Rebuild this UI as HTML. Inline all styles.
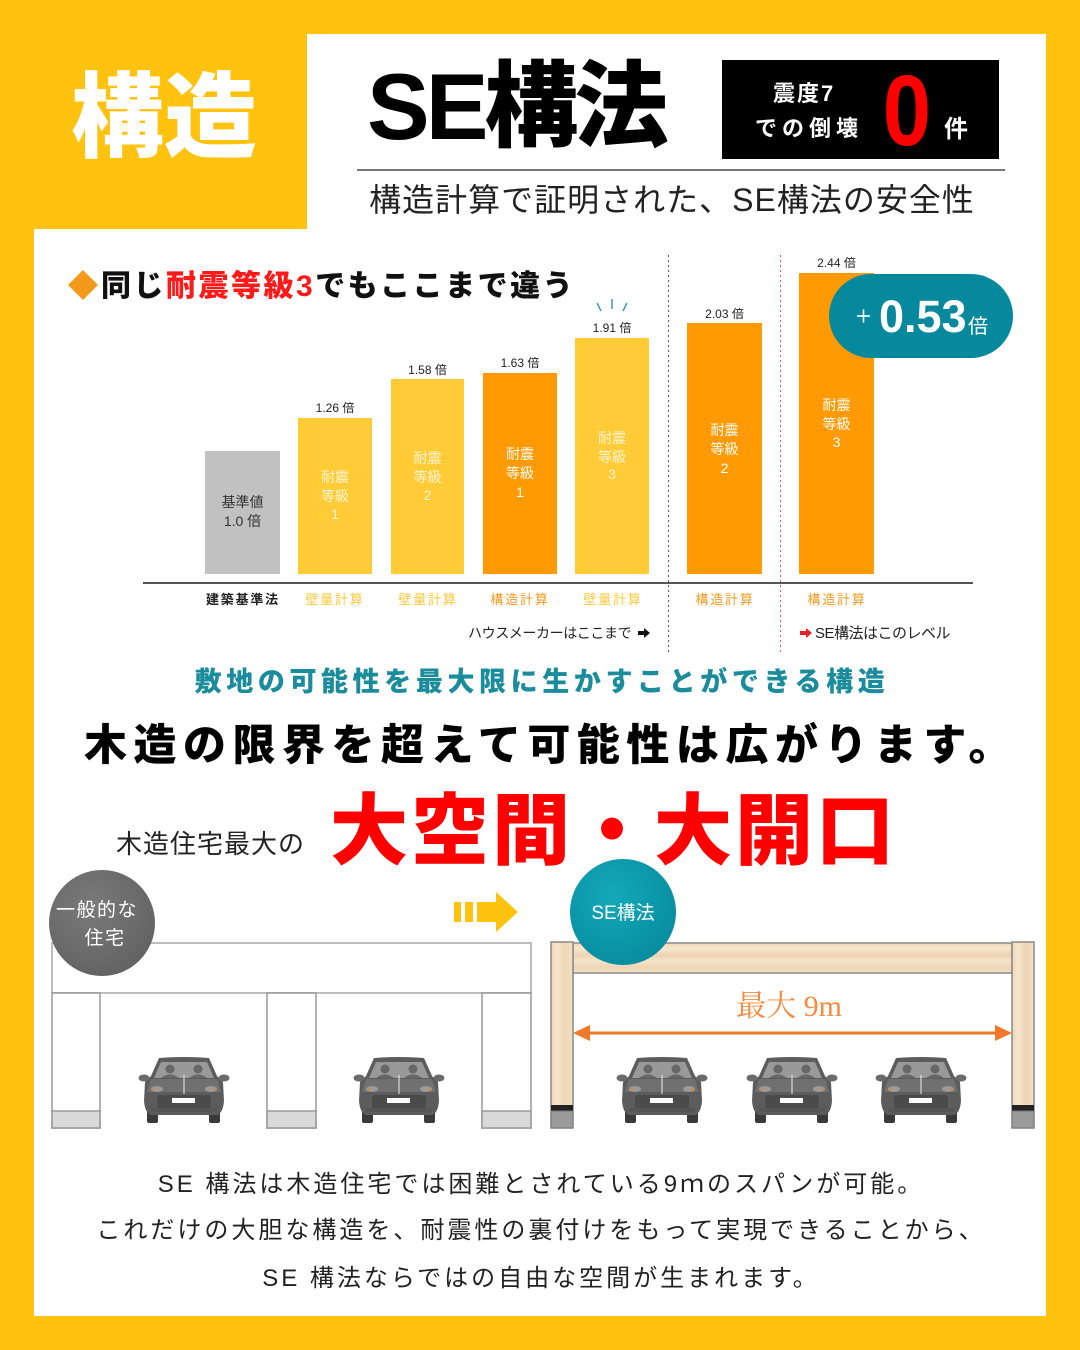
<!DOCTYPE html>
<html><head><meta charset="utf-8"><style>
html,body{margin:0;padding:0;background:#FFC20E;}
svg{display:block;}
.jp{font-family:"Liberation Sans","Noto Sans CJK JP",sans-serif;}
</style></head><body>
<svg width="1080" height="1350" viewBox="0 0 1080 1350" xmlns="http://www.w3.org/2000/svg" class="jp">
<defs>
<g id="car">
 <rect x="8" y="52" width="11" height="14" rx="2" fill="#3a3a3a"/>
 <rect x="70" y="52" width="11" height="14" rx="2" fill="#3a3a3a"/>
 <path d="M20 1 Q45 -1 70 1 L78 19 L84 25 L85 44 Q84 56 78 58 L12 58 Q6 56 5 44 L6 25 L12 19 Z" fill="#5c5c5c"/>
 <path d="M22 5 L68 5 L75 21 L15 21 Z" fill="#999"/>
 <circle cx="31" cy="12" r="4.5" fill="#676767"/>
 <circle cx="59" cy="12" r="4.5" fill="#676767"/>
 <path d="M22 21 Q31 14 40 21Z" fill="#676767"/>
 <path d="M50 21 Q59 14 68 21Z" fill="#676767"/>
 <ellipse cx="5" cy="21" rx="5.5" ry="3.5" fill="#6a6a6a"/>
 <ellipse cx="85" cy="21" rx="5.5" ry="3.5" fill="#6a6a6a"/>
 <path d="M12 22 L78 22 L82 35 L8 35 Z" fill="#707070"/>
 <line x1="45" y1="18" x2="45" y2="37" stroke="#eee" stroke-width="1"/>
 <ellipse cx="18" cy="32" rx="6" ry="3" fill="#9a9a9a"/>
 <ellipse cx="72" cy="32" rx="6" ry="3" fill="#9a9a9a"/>
 <circle cx="15" cy="32" r="1.4" fill="#d88a3a"/>
 <circle cx="75" cy="32" r="1.4" fill="#d88a3a"/>
 <rect x="18" y="38" width="54" height="14" rx="3" fill="#4b4b4b"/>
 <rect x="33" y="41" width="23" height="5" fill="#fff"/>
 <rect x="12" y="51" width="66" height="4" fill="#555"/>
</g>
<radialGradient id="teal" cx="0.4" cy="0.35" r="0.7">
 <stop offset="0" stop-color="#13a9ba"/><stop offset="1" stop-color="#078c9e"/>
</radialGradient>
<radialGradient id="gray" cx="0.4" cy="0.35" r="0.7">
 <stop offset="0" stop-color="#7a7a7a"/><stop offset="1" stop-color="#626262"/>
</radialGradient>
<linearGradient id="woodH" x1="0" y1="0" x2="0" y2="1">
 <stop offset="0" stop-color="#f0d9bb"/><stop offset="0.2" stop-color="#f6e6cd"/>
 <stop offset="0.4" stop-color="#edd3b2"/><stop offset="0.6" stop-color="#f5e4c8"/>
 <stop offset="0.8" stop-color="#eed6b6"/><stop offset="1" stop-color="#f3e0c4"/>
</linearGradient>
<linearGradient id="woodV" x1="0" y1="0" x2="1" y2="0">
 <stop offset="0" stop-color="#efd7b8"/><stop offset="0.3" stop-color="#f6e6cd"/>
 <stop offset="0.6" stop-color="#edd4b3"/><stop offset="1" stop-color="#f4e2c6"/>
</linearGradient>
</defs>

<!-- background -->
<rect x="0" y="0" width="1080" height="1350" fill="#FFC20E"/>
<rect x="307" y="34" width="739" height="196" fill="#fff"/>
<rect x="34" y="229" width="1012" height="1087" fill="#fff"/>

<!-- header -->
<text x="71" y="150" font-size="93" font-weight="900" fill="#fff">構造</text>
<text x="367" y="139" font-size="94" font-weight="900" fill="#000" letter-spacing="-4">SE構法</text>
<rect x="722" y="60" width="277" height="99" fill="#000"/>
<text x="773" y="101" font-size="22" font-weight="700" fill="#fff" letter-spacing="2">震度7</text>
<text x="755" y="136" font-size="22" font-weight="700" fill="#fff" letter-spacing="5">での倒壊</text>
<text transform="translate(907,145) scale(0.87,1)" x="0" y="0" text-anchor="middle" font-size="100" font-weight="700" fill="#FF0000">0</text>
<text x="944" y="137" font-size="24" font-weight="700" fill="#fff">件</text>
<rect x="357" y="169" width="648" height="2" fill="#777"/>
<text x="672" y="211" text-anchor="middle" font-size="32" fill="#222" letter-spacing="1">構造計算で証明された、SE構法の安全性</text>

<!-- chart heading -->
<polygon points="83,270 98,285 83,300 68,285" fill="#F39A1C"/>
<text x="101" y="296" font-size="30" font-weight="900" fill="#111" letter-spacing="2.5">同じ<tspan fill="#FF1A1A">耐震等級3</tspan>でもここまで違う</text>

<!-- dotted separators -->
<line x1="668.5" y1="255" x2="668.5" y2="655" stroke="#555" stroke-width="1" stroke-dasharray="2,3"/>
<line x1="780.5" y1="255" x2="780.5" y2="655" stroke="#e55" stroke-width="1" stroke-dasharray="2,3"/>

<!-- bars -->
<rect x="205" y="451" width="75" height="123" fill="#C1C1C1"/>
<rect x="298" y="418" width="74" height="156" fill="#FFCB37"/>
<rect x="391" y="379" width="73" height="195" fill="#FFCB37"/>
<rect x="483" y="373" width="74" height="201" fill="#FF9A02"/>
<rect x="575" y="338" width="74" height="236" fill="#FFCB37"/>
<rect x="687" y="323" width="75" height="251" fill="#FF9A02"/>
<rect x="799" y="273" width="75" height="301" fill="#FF9A02"/>

<!-- value labels -->
<g font-size="12" fill="#222" text-anchor="middle">
<text x="335" y="412">1.26 倍</text>
<text x="427.5" y="374">1.58 倍</text>
<text x="520" y="367">1.63 倍</text>
<text x="612" y="332">1.91 倍</text>
<text x="724.5" y="318">2.03 倍</text>
<text x="836.5" y="267">2.44 倍</text>
</g>
<g stroke="#3a9ab0" stroke-width="1.5">
<line x1="597" y1="303" x2="601" y2="311"/>
<line x1="612" y1="299" x2="612" y2="309"/>
<line x1="627" y1="303" x2="623" y2="311"/>
</g>

<!-- bar inner labels -->
<g font-size="14" text-anchor="middle">
<text x="242.5" y="507" fill="#333">基準値</text>
<text x="242.5" y="526" fill="#333">1.0 倍</text>
<g fill="#FFF4D6">
<text x="335" y="482">耐震</text><text x="335" y="501">等級</text><text x="335" y="519">1</text>
<text x="427.5" y="463">耐震</text><text x="427.5" y="482">等級</text><text x="427.5" y="500">2</text>
<text x="612" y="443">耐震</text><text x="612" y="462">等級</text><text x="612" y="479">3</text>
</g>
<g fill="#fff">
<text x="520" y="459">耐震</text><text x="520" y="478">等級</text><text x="520" y="497">1</text>
<text x="724.5" y="435">耐震</text><text x="724.5" y="454">等級</text><text x="724.5" y="473">2</text>
<text x="836.5" y="410">耐震</text><text x="836.5" y="429">等級</text><text x="836.5" y="447">3</text>
</g>
</g>

<!-- axis -->
<rect x="143" y="582" width="830" height="2" fill="#555"/>
<g font-size="13" text-anchor="middle" letter-spacing="1.8">
<text x="243" y="604" fill="#222" font-weight="700">建築基準法</text>
<text x="335" y="604" fill="#FFC83A">壁量計算</text>
<text x="428" y="604" fill="#FFC83A">壁量計算</text>
<text x="520" y="604" fill="#F59A1E">構造計算</text>
<text x="613" y="604" fill="#FFC83A">壁量計算</text>
<text x="725" y="604" fill="#F59A1E">構造計算</text>
<text x="837" y="604" fill="#F59A1E">構造計算</text>
</g>
<text x="468" y="638" font-size="14" fill="#222" letter-spacing="-0.4">ハウスメーカーはここまで</text>
<polygon points="638,631 644,631 644,628 650,633 644,638 644,635 638,635" fill="#111"/>
<polygon points="800,631 806,631 806,628 812,633 806,638 806,635 800,635" fill="#E8202A"/>
<text x="815" y="638" font-size="15" fill="#222" letter-spacing="-0.5">SE構法はこのレベル</text>

<!-- pill -->
<rect x="829" y="274" width="184" height="84" rx="42" fill="#07899D"/>
<g stroke="#fff" stroke-width="1.6">
<line x1="857" y1="316" x2="870" y2="316"/>
<line x1="863.5" y1="309.5" x2="863.5" y2="322.5"/>
</g>
<text x="879" y="332" font-size="45" font-weight="700" fill="#fff">0.53</text>
<text x="968" y="333" font-size="20" fill="#fff">倍</text>

<!-- middle texts -->
<text x="542" y="691" text-anchor="middle" font-size="27" font-weight="900" fill="#1A8C9C" letter-spacing="4.6">敷地の可能性を最大限に生かすことができる構造</text>
<text x="551" y="760" text-anchor="middle" font-size="43" font-weight="900" fill="#000" letter-spacing="6.5">木造の限界を超えて可能性は広がります。</text>
<text x="116" y="853" font-size="26" fill="#222" letter-spacing="1">木造住宅最大の</text>
<text x="330" y="858" font-size="78" font-weight="900" fill="#FF0000" letter-spacing="3">大空間・大開口</text>

<!-- left diagram -->
<rect x="52" y="943" width="479" height="50" fill="#fff" stroke="#bdbdbd" stroke-width="2"/>
<g stroke="#999" stroke-width="1.5">
<rect x="52" y="993" width="48" height="135" fill="#fff"/>
<rect x="267" y="993" width="49" height="135" fill="#fff"/>
<rect x="482" y="993" width="49" height="135" fill="#fff"/>
<rect x="52" y="1111" width="48" height="17" fill="#d9d9d9"/>
<rect x="267" y="1111" width="49" height="17" fill="#d9d9d9"/>
<rect x="482" y="1111" width="49" height="17" fill="#d9d9d9"/>
</g>
<circle cx="102" cy="923" r="53" fill="url(#gray)"/>
<text x="97" y="916" text-anchor="middle" font-size="19" fill="#fff" letter-spacing="1.5">一般的な</text>
<text x="105" y="944" text-anchor="middle" font-size="19" fill="#fff" letter-spacing="1.5">住宅</text>
<use href="#car" x="139" y="1057"/>
<use href="#car" x="354" y="1057"/>

<!-- yellow arrow -->
<rect x="454" y="902" width="7" height="20" fill="#FFC20E"/>
<rect x="465" y="902" width="8" height="20" fill="#FFC20E"/>
<rect x="477" y="902" width="21" height="20" fill="#FFC20E"/>
<polygon points="496,892 518,912 496,932" fill="#FFC20E"/>

<!-- right diagram -->
<rect x="573" y="943" width="439" height="30" fill="url(#woodH)" stroke="#8a8a8a" stroke-width="1.5"/>
<rect x="551" y="942" width="22" height="186" fill="url(#woodV)" stroke="#8a8a8a" stroke-width="1.5"/>
<rect x="1012" y="942" width="22" height="186" fill="url(#woodV)" stroke="#8a8a8a" stroke-width="1.5"/>
<rect x="551" y="1105" width="22" height="6" fill="#222"/>
<rect x="1012" y="1105" width="22" height="6" fill="#222"/>
<rect x="551" y="1111" width="22" height="17" fill="#9a9a9a" stroke="#777" stroke-width="1"/>
<rect x="1012" y="1111" width="22" height="17" fill="#9a9a9a" stroke="#777" stroke-width="1"/>
<circle cx="623" cy="912" r="53" fill="url(#teal)"/>
<text x="623" y="919" text-anchor="middle" font-size="19" fill="#fff">SE構法</text>
<text x="789" y="1016" text-anchor="middle" font-size="30" fill="#F58A3C" font-family="Liberation Serif, Noto Serif CJK SC, serif">最大 9m</text>
<line x1="585" y1="1033" x2="1000" y2="1033" stroke="#F07828" stroke-width="3"/>
<polygon points="573,1033 590,1025 590,1041" fill="#F07828"/>
<polygon points="1012,1033 995,1025 995,1041" fill="#F07828"/>
<use href="#car" x="617" y="1057"/>
<use href="#car" x="747" y="1057"/>
<use href="#car" x="876" y="1057"/>

<!-- bottom text -->
<g font-size="24" fill="#222" text-anchor="middle" letter-spacing="3">
<text x="541" y="1192">SE 構法は木造住宅では困難とされている9ｍのスパンが可能。</text>
<text x="541" y="1238">これだけの大胆な構造を、耐震性の裏付けをもって実現できることから、</text>
<text x="541" y="1286">SE 構法ならではの自由な空間が生まれます。</text>
</g>
</svg>
</body></html>
